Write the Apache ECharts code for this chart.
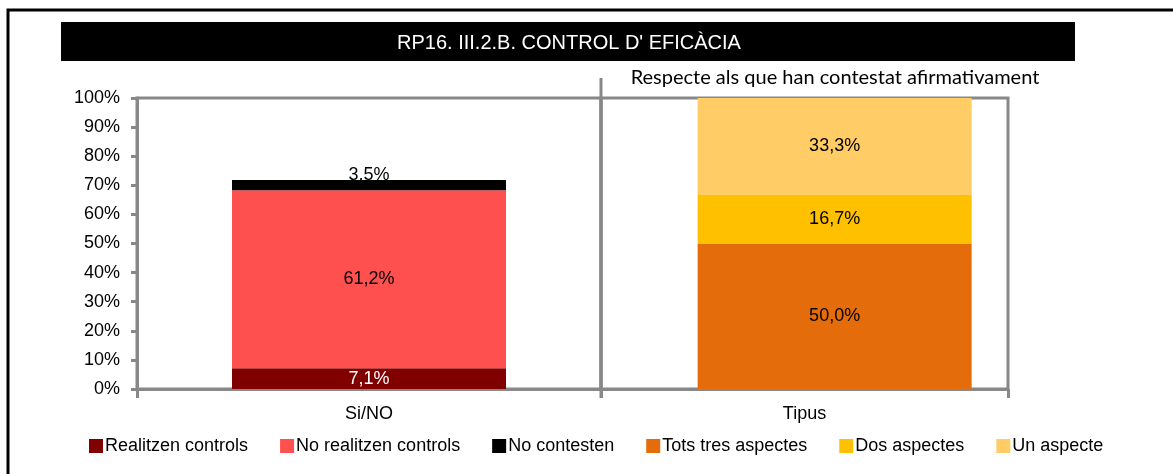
<!DOCTYPE html>
<html>
<head>
<meta charset="utf-8" />
<title>RP16. III.2.B. CONTROL D' EFICÀCIA</title>
<script src="https://cdn.jsdelivr.net/npm/echarts@6/dist/echarts.min.js"></script>
<style>
  html, body { margin: 0; padding: 0; background: #fff; }
  #main { width: 1173px; height: 474px; }
</style>
</head>
<body>
<div id="main"></div>
<script type="text/javascript">
// data
var categories = ['Si/NO', 'Tipus'];
var realitzen = [7.1];
var noRealitzen = [61.2];
var noContesten = [3.5];
var totsTres = [50.0];
var dosAspectes = [16.7];
var unAspecte = [33.3];
var yTicks = [0, 10, 20, 30, 40, 50, 60, 70, 80, 90, 100];

var font = 'Liberation Sans Narrow, Arial Narrow, Liberation Sans, sans-serif';

function fmt(p) {
    return p.value.toFixed(1).replace('.', ',') + '%';
}

function bar(name, data, idx, stack, color, labelColor, extra) {
    var s = {
        name: name,
        type: 'bar',
        stack: stack,
        xAxisIndex: idx,
        yAxisIndex: idx,
        barWidth: 274,
        data: data,
        itemStyle: { color: color },
        label: {
            show: true,
            position: 'inside',
            formatter: fmt,
            color: labelColor,
            fontFamily: font,
            fontSize: 18
        }
    };
    if (extra) Object.assign(s.label, extra);
    return s;
}

function xAx(idx, cat) {
    return {
        type: 'category',
        gridIndex: idx,
        data: [cat],
        axisLine: { lineStyle: { color: '#888', width: 3 } },
        axisTick: { show: true, alignWithLabel: false, length: 9, lineStyle: { color: '#888', width: 3 } },
        axisLabel: { color: '#000', fontFamily: font, fontSize: 18, margin: 16 }
    };
}

function yAx(idx) {
    return {
        type: 'value',
        gridIndex: idx,
        min: yTicks[0],
        max: yTicks[yTicks.length - 1],
        interval: 10,
        splitLine: { show: false },
        axisLine: { show: idx === 0, lineStyle: { color: '#888', width: 3 } },
        axisTick: { show: idx === 0, length: 6, lineStyle: { color: '#888', width: 3 } },
        axisLabel: { show: idx === 0, color: '#000', fontFamily: font, fontSize: 18, margin: 17,
                     formatter: '{value}%' }
    };
}

var myChart = echarts.init(document.getElementById('main'));
var option = {
    backgroundColor: '#fff',
    animation: false,
    textStyle: { fontFamily: font },
    graphic: [
        { type: 'rect', shape: { x: 8, y: 10, width: 1200, height: 500 },
          style: { fill: 'none', stroke: '#000', lineWidth: 3 } },
        { type: 'rect', shape: { x: 61, y: 22, width: 1014, height: 39 },
          style: { fill: '#000' } },
        { type: 'text', x: 569, y: 43,
          style: { text: "RP16. III.2.B. CONTROL D' EFICÀCIA", fill: '#fff',
                   font: '20px ' + font, align: 'center', verticalAlign: 'middle' } },
        { type: 'line', shape: { x1: 601, y1: 78, x2: 601, y2: 398 },
          style: { stroke: '#888', lineWidth: 3 } },
        { type: 'text', x: 835, y: 78,
          style: { text: 'Respecte als que han contestat afirmativament', fill: '#000',
                   font: '20px Lato, Carlito, sans-serif', align: 'center', verticalAlign: 'middle' } }
    ],
    grid: [
        { left: 137, width: 464, top: 98, bottom: 85,
          show: true, borderColor: '#888', borderWidth: 3 },
        { left: 601, width: 407, top: 98, bottom: 85,
          show: true, borderColor: '#888', borderWidth: 3 }
    ],
    legend: {
        bottom: 14,
        left: 84,
        itemWidth: 14,
        itemHeight: 14,
        itemGap: 32,
        icon: 'rect',
        textStyle: { fontFamily: font, fontSize: 18, color: '#000', padding: [0, 0, 0, -3] },
        data: ['Realitzen controls', 'No realitzen controls', 'No contesten',
               'Tots tres aspectes', 'Dos aspectes', 'Un aspecte']
    },
    xAxis: [xAx(0, categories[0]), xAx(1, categories[1])],
    yAxis: [yAx(0), yAx(1)],
    series: [
        bar('Realitzen controls', realitzen, 0, 'a', '#800000', '#fff'),
        bar('No realitzen controls', noRealitzen, 0, 'a', '#FF5050', '#000'),
        bar('No contesten', noContesten, 0, 'a', '#000000', '#000', { position: 'top', distance: -4 }),
        // empty spacer stack: shifts the Tipus bar right of its band centre, as in the original
        { type: 'bar', stack: 'pad', xAxisIndex: 1, yAxisIndex: 1, barWidth: 274,
          barGap: '-78%', data: [0], itemStyle: { color: 'transparent' }, silent: true },
        bar('Tots tres aspectes', totsTres, 1, 'b', '#E46C0A', '#000'),
        bar('Dos aspectes', dosAspectes, 1, 'b', '#FFC000', '#000'),
        bar('Un aspecte', unAspecte, 1, 'b', '#FFCC66', '#000')
    ]
};
myChart.setOption(option);
</script>
</body>
</html>
